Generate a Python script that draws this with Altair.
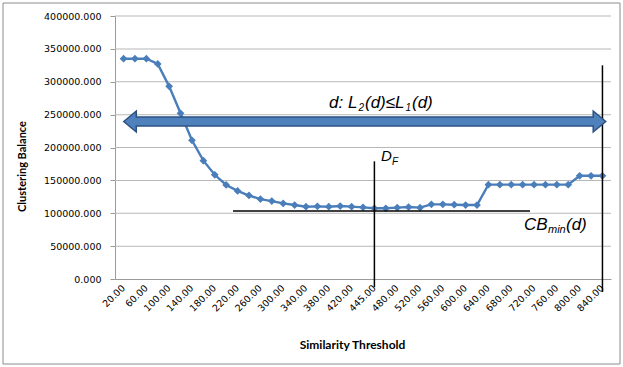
import altair as alt
import pandas as pd

# ---- data ----
thresholds = ["20.00", "40.00", "60.00", "80.00", "100.00", "120.00", "140.00", "160.00",
              "180.00", "200.00", "220.00", "240.00", "260.00", "280.00", "300.00", "320.00",
              "340.00", "360.00", "380.00", "400.00", "420.00", "440.00", "445.00", "460.00",
              "480.00", "500.00", "520.00", "540.00", "560.00", "580.00", "600.00", "620.00",
              "640.00", "660.00", "680.00", "700.00", "720.00", "740.00", "760.00", "780.00",
              "800.00", "820.00", "840.00"]
balance = [335000, 335000, 335000, 327000, 293000, 252000, 211000, 180000,
           158500, 143000, 134000, 127000, 121500, 118500, 115000, 112500,
           110000, 110500, 110000, 111000, 110000, 109000, 107500, 107500,
           108500, 109500, 108500, 113500, 113500, 113000, 112500, 112500,
           143500, 143500, 143500, 143500, 143500, 143500, 143500, 143500,
           157000, 157000, 157000]
tick_labels = thresholds[::2]
y_ticks = [0, 50000, 100000, 150000, 200000, 250000, 300000, 350000, 400000]

df = pd.DataFrame({"threshold": thresholds, "balance": balance})
grid_df = pd.DataFrame({"g": y_ticks[1:]})

LEFT, TOP = 115, 16
BLUE = "#4a7ebb"
one = alt.Data(values=[{}])

x_axis = alt.Axis(values=tick_labels, labelAngle=315, labelAlign="right",
                  labelBaseline="middle", labelPadding=7, ticks=False,
                  labelOverlap=False,
                  labelFont="DejaVu Sans", labelFontSize=9.5, labelColor="#000",
                  domainColor="#9a9a9a", grid=False,
                  title="Similarity Threshold", titleFont="Lato",
                  titleFontSize=12, titleFontWeight="bold", titleColor="#000",
                  titleX=237, titleY=65, titleAlign="center", titleBaseline="middle")
y_axis = alt.Axis(values=y_ticks, format=".3f", tickSize=5, tickColor="#9a9a9a",
                  labelOverlap=False, grid=False,
                  labelPadding=9, labelFont="DejaVu Sans", labelFontSize=9.5,
                  labelColor="#000", domainColor="#9a9a9a",
                  title="Clustering Balance", titleFont="Lato", titleFontSize=11,
                  titleFontWeight="bold", titleColor="#000", titleAngle=270,
                  titleX=-93, titleY=150, titleAlign="center",
                  titleBaseline="middle")
x_scale = alt.Scale(padding=0.5)
y_scale = alt.Scale(domain=[0, 400000], nice=False, zero=True)

x_enc = alt.X("threshold:O", sort=thresholds, scale=x_scale, axis=x_axis)
y_enc = alt.Y("balance:Q", scale=y_scale, axis=y_axis)


def xd(v):
    return alt.XDatum(v, type="ordinal", scale=x_scale, axis=x_axis)


def yd(v):
    return alt.YDatum(v, type="quantitative", scale=y_scale, axis=y_axis)


border = alt.Chart(one).mark_rect(fill="transparent", stroke="#8c8c8c", strokeWidth=1).encode(
    x=alt.value(3 - LEFT), x2=alt.value(620 - LEFT),
    y=alt.value(3 - TOP), y2=alt.value(364 - TOP))

# gridlines as thin grey bands (1 px tall rects), drawn from the tick list
grid = alt.Chart(grid_df).mark_rect(color="#b8b8b8", height=1, opacity=1).encode(
    x=alt.value(0), x2=alt.value(496),
    y=alt.Y("g:Q", scale=y_scale, axis=y_axis))

line = alt.Chart(df).mark_line(color=BLUE, strokeWidth=2.4).encode(x=x_enc, y=y_enc)
pts = alt.Chart(df).mark_point(shape="diamond", filled=True, color=BLUE, size=60,
                               opacity=1).encode(x=x_enc, y=y_enc)

cb_line = alt.Chart(one).mark_rule(color="#000", strokeWidth=1.5).encode(
    x=alt.value(233 - LEFT), x2=alt.value(530 - LEFT), y=yd(103500))

df_line = alt.Chart(one).mark_rule(color="#000", strokeWidth=1.5).encode(
    x=xd("445.00"), y=yd(179000), y2=alt.value(287 - TOP))

right_line = alt.Chart(one).mark_rule(color="#000", strokeWidth=1.5).encode(
    x=xd("840.00"), y=yd(325000), y2=alt.value(292 - TOP))

arrow_path = ("M -1 0 L -0.948 -0.0436 L -0.948 -0.0187 L 0.948 -0.0187 L 0.948 -0.0436 "
              "L 1 0 L 0.948 0.0436 L 0.948 0.0187 L -0.948 0.0187 L -0.948 0.0436 Z")
arrow = alt.Chart(one).mark_point(shape=arrow_path, filled=True, fill="#4f81bd",
                                  stroke="#2c5182", strokeWidth=1.5, opacity=1,
                                  fillOpacity=1).encode(
    x=alt.value((123.5 + 606) / 2 - LEFT), y=alt.value(121.5 - TOP),
    size=alt.value(482 ** 2))


def label(txt, xabs, yabs, size):
    return alt.Chart(one).mark_text(text=txt, align="left", baseline="alphabetic",
                                    font="Liberation Sans", fontStyle="italic",
                                    fontSize=size, color="#000").encode(
        x=alt.value(xabs - LEFT), y=alt.value(yabs - TOP))


texts = [
    label("d: L", 329, 108, 17), label("2", 358.5, 111, 10), label("(d)≤L", 365, 108, 17),
    label("1", 405.5, 111, 10), label("(d)", 412, 108, 17),
    label("D", 381, 161, 15), label("F", 392, 165, 10),
    label("CB", 524, 230, 17), label("min", 548, 233, 11), label("(d)", 566, 230, 17),
]

chart = alt.layer(border, grid, line, pts, cb_line, df_line, right_line, arrow,
                  *texts).properties(
    width=496, height=263,
    padding={"left": LEFT, "top": TOP, "right": 12, "bottom": 88},
    autosize="none",
    background="white",
).configure_view(stroke=None)

chart.save("out.html", embed_options={"renderer": "svg", "actions": False})
